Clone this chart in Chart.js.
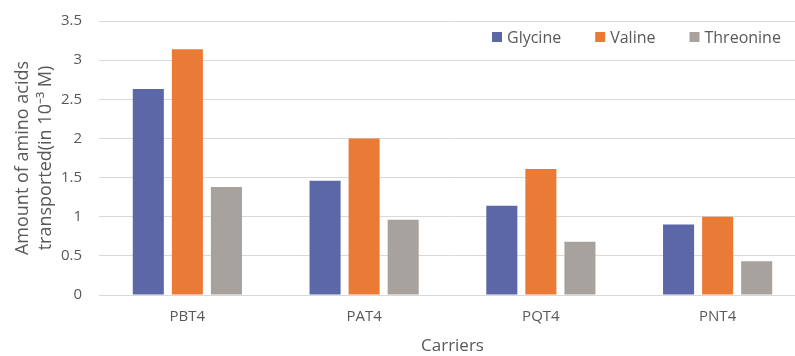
<!DOCTYPE html>
<html>
<head>
<meta charset="utf-8">
<script src="https://cdn.jsdelivr.net/npm/chart.js@4/dist/chart.umd.min.js"></script>
<style>
  html, body { margin: 0; padding: 0; background: #ffffff; overflow: hidden; }
  #wrap { width: 812px; height: 356px; }
</style>
</head>
<body>
<div id="wrap"><canvas id="chart" width="812" height="356"></canvas></div>
<script>
// Carriers along the x axis
const carriers = ['PBT4', 'PAT4', 'PQT4', 'PNT4'];

// Amount of each amino acid transported (10^-3 M)
const glycine   = [2.63, 1.46, 1.14, 0.90];
const valine    = [3.14, 2.00, 1.61, 1.00];
const threonine = [1.38, 0.96, 0.68, 0.43];

// Value axis labels, 0 to 3.5 in steps of 0.5
const yTickLabels = ['0', '0.5', '1', '1.5', '2', '2.5', '3', '3.5'];

const TEXT = '#595959';
const GRID = '#d9d9d9';
const FONT = "'Open Sans', sans-serif";

// Legend drawn inside the plot, along its top edge
const insideLegend = {
  id: 'insideLegend',
  afterDatasetsDraw(chart) {
    const { ctx, chartArea } = chart;
    ctx.save();
    ctx.font = "16px 'Open Sans', sans-serif";
    ctx.textBaseline = 'middle';
    ctx.textAlign = 'left';
    let x = chartArea.left + 393;
    const y = chartArea.top + 16;
    chart.data.datasets.forEach(ds => {
      ctx.fillStyle = ds.backgroundColor;
      ctx.fillRect(x, y - 5, 10, 10);
      x += 15;
      ctx.fillStyle = TEXT;
      ctx.fillText(ds.label, x, y + 1);
      x += ctx.measureText(ds.label).width + 34;
    });
    ctx.restore();
  }
};

new Chart(document.getElementById('chart'), {
  type: 'bar',
  data: {
    labels: carriers,
    datasets: [
      { label: 'Glycine',   data: glycine,   backgroundColor: '#5b67a6' },
      { label: 'Valine',    data: valine,    backgroundColor: '#e97b37' },
      { label: 'Threonine', data: threonine, backgroundColor: '#a8a29e' }
    ]
  },
  options: {
    responsive: false,
    devicePixelRatio: 1,
    animation: false,
    layout: { padding: { top: 21, right: 6, left: 0, bottom: 0 } },
    datasets: {
      bar: { categoryPercentage: 0.663, barPercentage: 0.795, borderWidth: 0 }
    },
    plugins: {
      legend: { display: false },
      tooltip: { enabled: false }
    },
    scales: {
      x: {
        grid: { display: false, drawTicks: false },
        border: { color: GRID, width: 1 },
        ticks: { color: TEXT, font: { family: FONT, size: 15 }, padding: 13 },
        title: {
          display: true,
          text: 'Carriers',
          color: TEXT,
          font: { family: FONT, size: 17 },
          padding: { top: 4, bottom: 0 }
        },
        afterFit(scale) {
          scale.height = 61;
          scale.paddingLeft = 0;
          scale.paddingRight = 0;
        }
      },
      y: {
        min: 0,
        max: 3.5,
        ticks: {
          stepSize: 0.5,
          color: TEXT,
          font: { family: FONT, size: 15 },
          padding: 17,
          callback: (value, index) => yTickLabels[index]
        },
        grid: { color: GRID, lineWidth: 1, drawTicks: false },
        border: { display: false },
        title: {
          display: true,
          text: ['Amount of amino acids', 'transported(in 10\u207B\u00B3 M)'],
          color: TEXT,
          font: { family: FONT, size: 18, lineHeight: 1.25 },
          padding: { top: 12, bottom: 0 }
        },
        afterFit(scale) {
          scale.width = 99;
          scale.paddingTop = 0;
          scale.paddingBottom = 0;
        }
      }
    }
  },
  plugins: [insideLegend]
});
</script>
</body>
</html>
